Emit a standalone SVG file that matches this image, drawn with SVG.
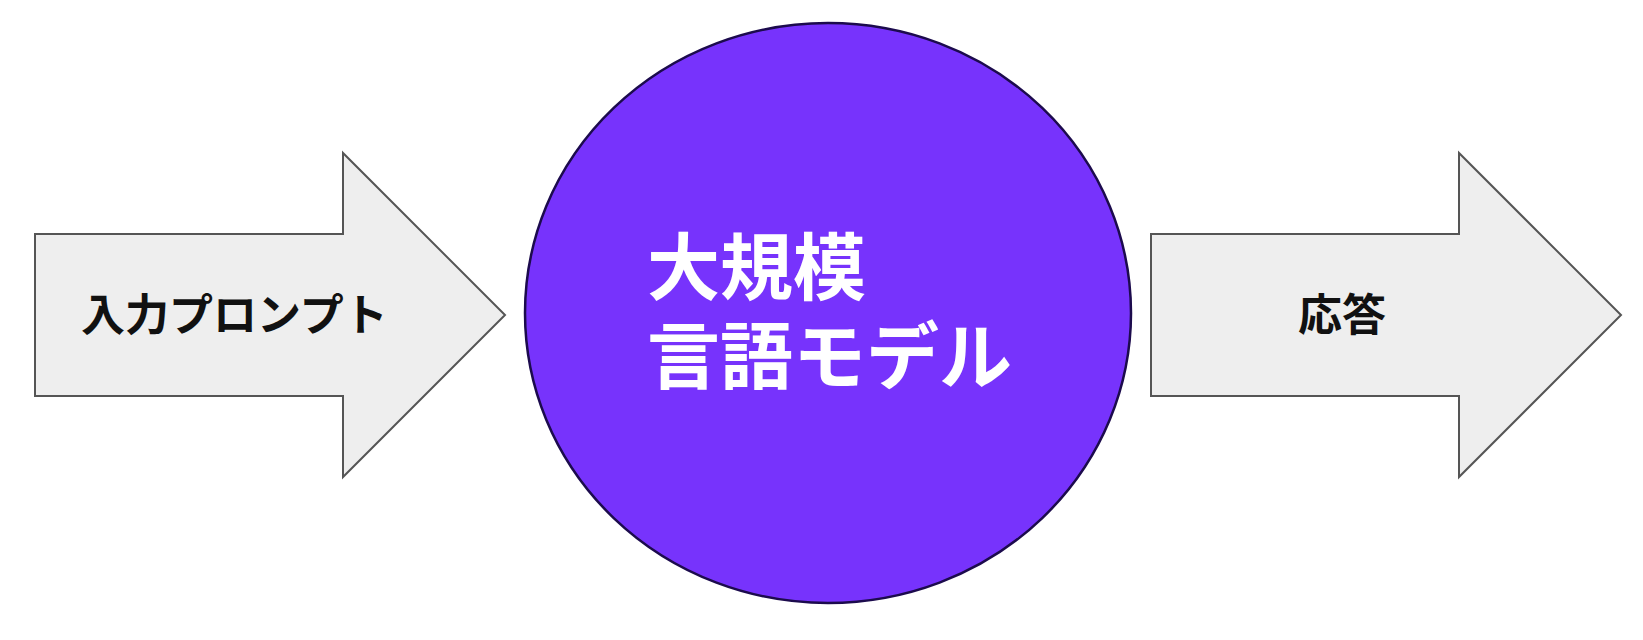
<svg xmlns="http://www.w3.org/2000/svg" width="1643" height="640" viewBox="0 0 1643 640">
<style>
.arrow{fill:#eeeeee;stroke:#555555;stroke-width:2;stroke-linejoin:miter}
.lbl{font-family:"Noto Sans CJK JP","Noto Sans",sans-serif;font-weight:700;fill:#111111;font-size:44px}
.llm{font-family:"Noto Sans CJK JP","Noto Sans",sans-serif;font-weight:700;fill:#ffffff;font-size:73px}
</style>
<rect width="1643" height="640" fill="#ffffff"/>
<g id="input">
<path class="arrow" d="M35 234 H343 V153 L505 315 L343 477 V396 H35 Z"/>
<text class="lbl" x="81" y="331">入力プロンプト</text>
</g>
<g id="llm">
<ellipse cx="828" cy="313" rx="303" ry="290" fill="#7733fc" stroke="#1c0b4d" stroke-width="2.5"/>
<text class="llm" x="647" y="294">大規模</text>
<text class="llm" x="647" y="383">言語モデル</text>
</g>
<g id="response">
<path class="arrow" d="M1151 234 H1459 V153 L1621 315 L1459 477 V396 H1151 Z"/>
<text class="lbl" x="1298" y="331">応答</text>
</g>
<g id="connectors"></g>
</svg>
